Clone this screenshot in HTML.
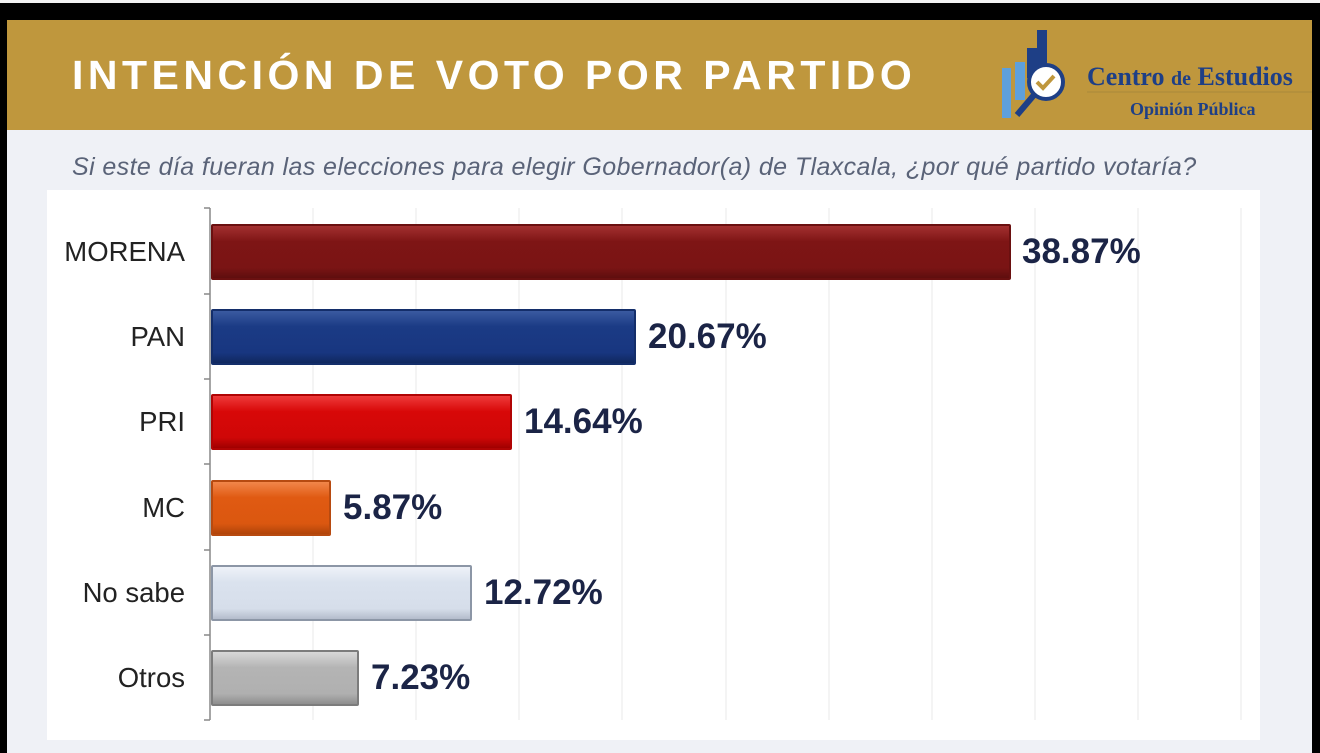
<!DOCTYPE html>
<html><head><meta charset="utf-8"><style>
body{margin:0;width:1320px;height:753px;background:#000;position:relative;overflow:hidden;font-family:"Liberation Sans",sans-serif}
.bg{position:absolute;left:7px;top:20px;width:1305px;height:733px;background:#eff1f6}
.gold{position:absolute;left:7px;top:20px;width:1305px;height:110px;background:#bf973d}
.title{position:absolute;left:72px;top:52px;font-size:41px;font-weight:bold;color:#fff;letter-spacing:4.5px;white-space:nowrap}
.sub{position:absolute;left:72px;top:153px;font-size:25px;font-style:italic;color:#5a6378;white-space:nowrap;letter-spacing:0.4px}
.panel{position:absolute;left:47px;top:190px;width:1213px;height:550px;background:#fff}
.cat{position:absolute;width:170px;left:15px;text-align:right;font-size:27.5px;color:#222}
.val{position:absolute;font-size:35px;font-weight:bold;color:#1b2446}
.bar{position:absolute;left:211px;height:56px;box-sizing:border-box;border-radius:2px}
</style></head><body>
<div style="position:absolute;left:0;top:0;width:1320px;height:3px;background:#f3f3f3"></div>
<div class="bg"></div>
<div class="gold"></div>
<div class="title">INTENCIÓN DE VOTO POR PARTIDO</div>
<svg style="position:absolute;left:995px;top:20px" width="320" height="110">
<rect x="42" y="10" width="10" height="45" fill="#1e3f86"/>
<rect x="32" y="28" width="10" height="30" fill="#1e3f86"/>
<rect x="20" y="42" width="10" height="38" fill="#5ea0dc"/>
<rect x="7" y="48" width="9" height="50" fill="#5ea0dc"/>
<circle cx="51" cy="62" r="17" fill="#fff" stroke="#1e3f86" stroke-width="4"/>
<path d="M42 62 l6 6 l11 -12" stroke="#bf973d" stroke-width="4" fill="none"/>
<line x1="39" y1="75" x2="22" y2="95" stroke="#1e3f86" stroke-width="6"/>
<text x="92" y="65" font-family="Liberation Serif" font-size="26" font-weight="bold" fill="#1e3f86">Centro <tspan font-size="20">de</tspan> Estudios</text>
<line x1="92" y1="72" x2="317" y2="72" stroke="#a88a3a" stroke-width="1"/>
<text x="135" y="95" font-family="Liberation Serif" font-size="18" font-weight="bold" fill="#1e3f86">Opinión Pública</text>
</svg>
<div class="sub">Si este día fueran las elecciones para elegir Gobernador(a) de Tlaxcala, ¿por qué partido votaría?</div>
<div class="panel"></div>
<svg style="position:absolute;left:0;top:0" width="1320" height="753">
<g stroke="#e8e8e8" stroke-width="1">
<line x1="313" y1="208" x2="313" y2="720"/><line x1="416" y1="208" x2="416" y2="720"/><line x1="519" y1="208" x2="519" y2="720"/><line x1="622" y1="208" x2="622" y2="720"/><line x1="726" y1="208" x2="726" y2="720"/><line x1="829" y1="208" x2="829" y2="720"/><line x1="932" y1="208" x2="932" y2="720"/><line x1="1035" y1="208" x2="1035" y2="720"/><line x1="1138" y1="208" x2="1138" y2="720"/><line x1="1241" y1="208" x2="1241" y2="720"/>
</g>
<g stroke="#888" stroke-width="1.5">
<line x1="210" y1="208" x2="210" y2="720"/>
<line x1="204" y1="208" x2="210" y2="208"/><line x1="204" y1="294" x2="210" y2="294"/><line x1="204" y1="379" x2="210" y2="379"/><line x1="204" y1="464" x2="210" y2="464"/><line x1="204" y1="550" x2="210" y2="550"/><line x1="204" y1="635" x2="210" y2="635"/><line x1="204" y1="720" x2="210" y2="720"/>
</g>
</svg>
<div class="bar" style="top:224px;width:800px;background:linear-gradient(#a33030,#7e1515 30%,#7a1414 80%,#5e0e0e);border:2px solid #6a1010"></div>
<div class="bar" style="top:309px;width:425px;background:linear-gradient(#3a5aa0,#1b3b85 30%,#183680 80%,#10285e);border:2px solid #142e6a"></div>
<div class="bar" style="top:394px;width:301px;background:linear-gradient(#ee3a3a,#d80808 30%,#cf0707 80%,#a00000);border:2px solid #b00404"></div>
<div class="bar" style="top:480px;width:120px;background:linear-gradient(#f2864a,#e05a12 30%,#db5710 80%,#b0440a);border:2px solid #b74a10"></div>
<div class="bar" style="top:565px;width:261px;background:linear-gradient(#eef2f8,#dae2ee 30%,#d6deea 80%,#b4bccb);border:2px solid #8c96a6"></div>
<div class="bar" style="top:650px;width:148px;background:linear-gradient(#d8d8d8,#b4b4b4 30%,#b0b0b0 80%,#8e8e8e);border:2px solid #7c7c7c"></div>
<div class="cat" style="top:236px">MORENA</div>
<div class="cat" style="top:321px">PAN</div>
<div class="cat" style="top:406px">PRI</div>
<div class="cat" style="top:492px">MC</div>
<div class="cat" style="top:577px">No sabe</div>
<div class="cat" style="top:662px">Otros</div>
<div class="val" style="left:1022px;top:232px">38.87%</div>
<div class="val" style="left:648px;top:317px">20.67%</div>
<div class="val" style="left:524px;top:402px">14.64%</div>
<div class="val" style="left:343px;top:488px">5.87%</div>
<div class="val" style="left:484px;top:573px">12.72%</div>
<div class="val" style="left:371px;top:658px">7.23%</div>
</body></html>
